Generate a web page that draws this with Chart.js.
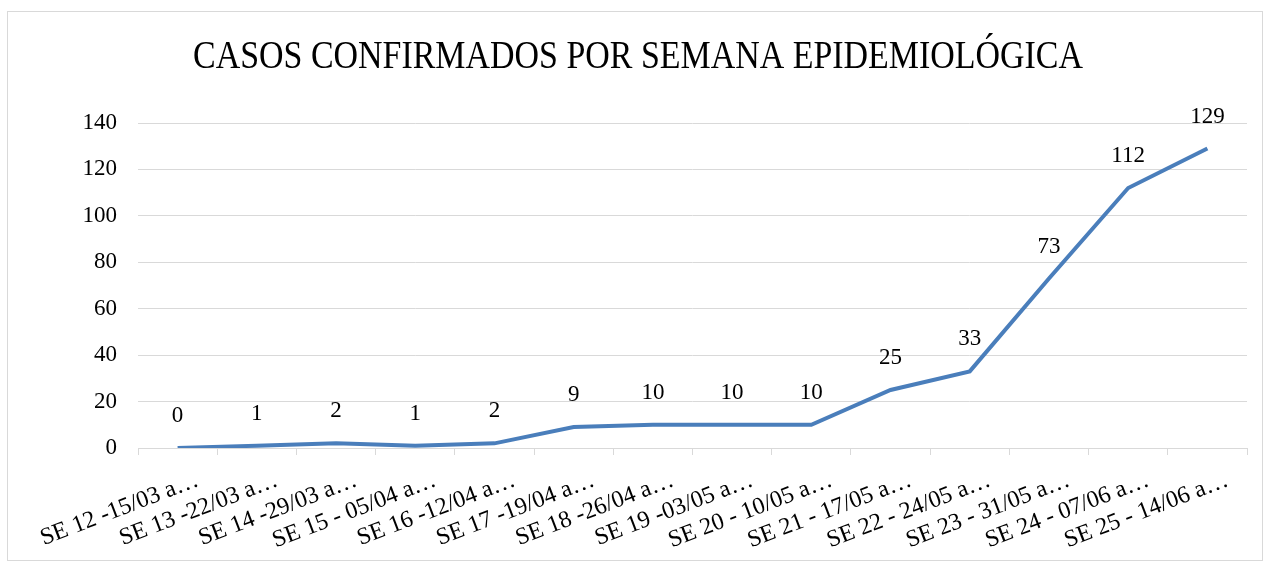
<!DOCTYPE html>
<html><head><meta charset="utf-8">
<script src="https://cdn.jsdelivr.net/npm/chart.js@4.4.0/dist/chart.umd.min.js"></script>
<style>
html,body{margin:0;padding:0;background:#fff;}
#wrap{position:absolute;left:0;top:0;width:1269px;height:568px;}
#frame{position:absolute;left:7px;top:11px;width:1254px;height:548px;border:1px solid #d9d9d9;}
canvas{position:absolute;left:0;top:0;}
</style></head>
<body><div id="wrap"><div id="frame"></div><canvas id="c" width="1269" height="568"></canvas></div>
<script>
const titleText = "CASOS CONFIRMADOS POR SEMANA EPIDEMIOLÓGICA";
const categories = ["SE 12 -15/03 a…","SE 13 -22/03 a…","SE 14 -29/03 a…","SE 15 - 05/04 a…","SE 16 -12/04 a…","SE 17 -19/04 a…","SE 18 -26/04 a…","SE 19 -03/05 a…","SE 20 - 10/05 a…","SE 21 - 17/05 a…","SE 22 - 24/05 a…","SE 23 - 31/05 a…","SE 24 - 07/06 a…","SE 25 - 14/06 a…"];
const casos = [0,1,2,1,2,9,10,10,10,25,33,73,112,129];
const yTicks = [0,20,40,60,80,100,120,140];

const FONT = "'Liberation Serif', serif";

const titlePlugin = {
  id:'titleP',
  afterDraw(chart){
    const ctx = chart.ctx;
    ctx.save();
    ctx.font = "39px " + FONT;
    ctx.fillStyle = "#000";
    ctx.textAlign = "center";
    ctx.textBaseline = "alphabetic";
    const w = ctx.measureText(titleText).width;
    const target = 890;
    ctx.translate(638, 68);
    ctx.scale(target / w, 1);
    ctx.fillText(titleText, 0, 0);
    ctx.restore();
  }
};
const labelPlugin = {
  id:'vals',
  afterDatasetsDraw(chart){
    const ctx = chart.ctx;
    const meta = chart.getDatasetMeta(0);
    ctx.save();
    ctx.font = "23px " + FONT;
    ctx.fillStyle = "#000";
    ctx.textAlign = "center";
    ctx.textBaseline = "middle";
    meta.data.forEach((p,i)=>{
      ctx.fillText(String(casos[i]), p.x, p.y - 32);
    });
    ctx.restore();
  }
};

new Chart(document.getElementById('c'), {
  type:'line',
  data:{labels:categories, datasets:[{data:casos, borderColor:'#4a7ebb', borderWidth:4, pointRadius:0, tension:0, fill:false}]},
  options:{
    responsive:false, animation:false,
    layout:{padding:{top:123,right:22,left:0,bottom:0}},
    plugins:{legend:{display:false}, tooltip:{enabled:false}, title:{display:false}},
    scales:{
      x:{
        offset:true,
        grid:{offset:true, drawOnChartArea:false, color:'#d9d9d9', tickLength:7, lineWidth:1},
        border:{color:'#d9d9d9', width:1},
        ticks:{font:{family:FONT, size:24}, color:'#000', maxRotation:21, minRotation:21, autoSkip:false, padding:11, labelOffset:20},
        afterFit(s){ s.height = 120; }
      },
      y:{
        min:0, max:140,
        afterBuildTicks(s){ s.ticks = yTicks.map(v=>({value:v})); },
        grid:{color:'#d9d9d9', drawTicks:false, lineWidth:1},
        border:{display:false},
        ticks:{font:{family:FONT, size:23}, color:'#000', padding:21},
        afterFit(s){ s.width = 138; }
      }
    }
  },
  plugins:[titlePlugin, labelPlugin]
});
</script></body></html>
